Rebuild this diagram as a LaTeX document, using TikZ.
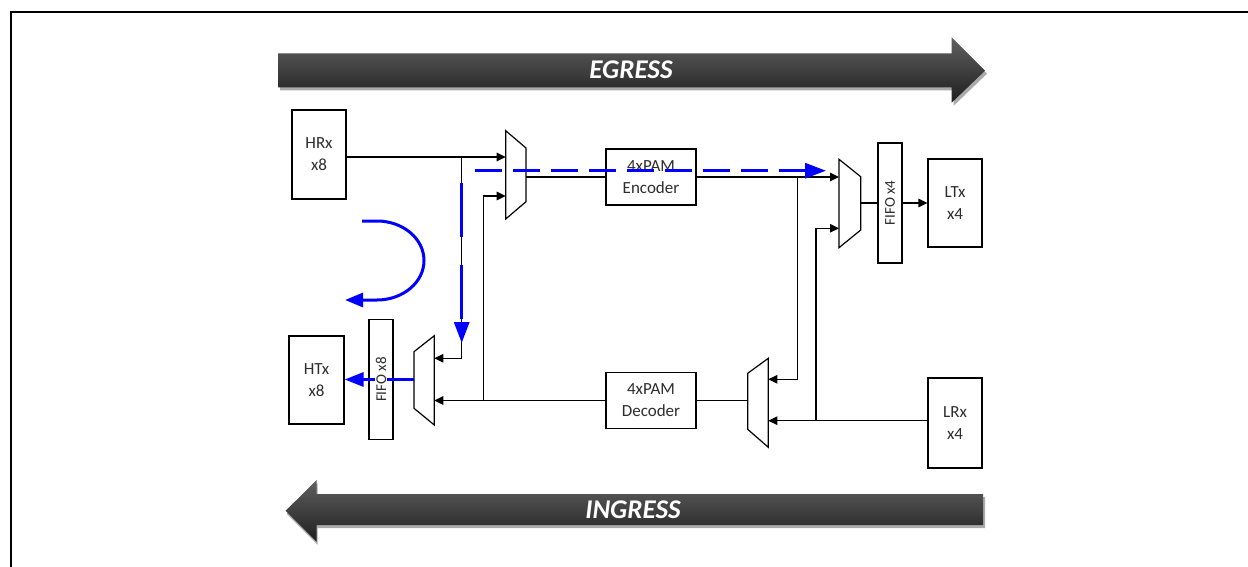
\documentclass[tikz,border=0pt]{standalone}
\usepackage{fontspec}
\setmainfont{Carlito}
\usetikzlibrary{arrows.meta,calc}
\definecolor{arrtop}{RGB}{96,96,96}
\definecolor{arrbot}{RGB}{30,30,30}
\definecolor{shadowgray}{RGB}{170,170,170}
\definecolor{lbl}{RGB}{45,45,45}
\begin{document}
\begin{tikzpicture}[x=1pt,y=-1pt,
  box/.style={draw, line width=1.2pt, inner sep=0pt, align=center, font=\fontsize{17}{22}\selectfont, text=lbl},
  fifo/.style={draw, line width=1.2pt, inner sep=0pt, minimum width=24pt, minimum height=120pt},
  fifolbl/.style={rotate=90, font=\fontsize{15}{18}\selectfont, text=lbl, fill=white, inner sep=0.6pt},
  wire/.style={line width=1.2pt},
  arr/.style={wire, -{Triangle[length=9pt,width=8.5pt]}},
  mux/.style={draw, line width=1.2pt, line join=miter},
  blueline/.style={draw=blue, line width=3pt},
  bluedash/.style={blueline, dash pattern=on 27pt off 11pt},
  bluedashv/.style={blueline, dash pattern=on 54pt off 28pt},
  bigtip/.style={-{Triangle[length=21pt,width=15pt]}},
  shaftext/.style={text=white, font=\fontsize{27}{30}\selectfont\bfseries\itshape},
]
\useasboundingbox (0,0) rectangle (1248,567);
\draw[line width=2.4pt] (11,567) -- (11,12) -- (1248,12);

% ---- big direction arrows
\fill[shadowgray] ($(278,53.3)+(2,3)$) -- ++(673.7,0) -- ++(0,-16) -- ($(985,70.7)+(2,3)$) -- ($(951.7,102.7)+(2,3)$) -- ($(951.7,87.3)+(2,3)$) -- ($(278,87.3)+(2,3)$) -- cycle;
\shade[top color=arrtop, bottom color=arrbot] (278,53.3) -- (951.7,53.3) -- (951.7,37.3) -- (985,70.7) -- (951.7,102.7) -- (951.7,87.3) -- (278,87.3) -- cycle;
\node[shaftext] (egress) at (631,69.5) {EGRESS};

\fill[shadowgray] ($(984,494)+(1,3)$) -- ($(316.7,494)+(1,3)$) -- ($(316.7,480)+(1,3)$) -- ($(285.7,510.7)+(1,3)$) -- ($(316.7,541.7)+(1,3)$) -- ($(316.7,525)+(1,3)$) -- ($(984,525)+(1,3)$) -- cycle;
\shade[top color=arrtop, bottom color=arrbot] (983,494) -- (316.7,494) -- (316.7,480) -- (285.7,510.7) -- (316.7,541.7) -- (316.7,525) -- (983,525) -- cycle;
\node[shaftext] (ingress) at (633,509.5) {INGRESS};

% ---- blocks
\node[box, minimum width=54pt, minimum height=89pt] (HRx) at (319,154.5) {HRx\\x8};
\node[box, minimum width=55pt, minimum height=88pt] (HTx) at (316.5,380) {HTx\\x8};
\node[fifo] (fifo8) at (381,379.5) {};
\node[box, minimum width=90pt, minimum height=56pt] (enc) at (651,177) {4xPAM\\Encoder};
\node[box, minimum width=90pt, minimum height=56pt] (dec) at (651,400.5) {4xPAM\\Decoder};
\node[fifo] (fifo4) at (890,203) {};
\node[fifolbl, fill=none] (fifo4t) at (fifo4.center) {FIFO x4};
\node[box, minimum width=54pt, minimum height=88pt] (LTx) at (955,203) {LTx\\x4};
\node[box, minimum width=54pt, minimum height=90pt] (LRx) at (955,423) {LRx\\x4};

% ---- multiplexers
\draw[mux] (505.7,130.7) -- (526,148) -- (526,201.7) -- (505.7,219) -- cycle;
\draw[mux] (414,351.7) -- (434.3,335.7) -- (434.3,425) -- (414,408.3) -- cycle;
\draw[mux] (839,159.3) -- (860.7,176.7) -- (860.7,230) -- (839,247.7) -- cycle;
\draw[mux] (747.7,373.3) -- (768.3,358.3) -- (768.3,447.3) -- (747.7,429.3) -- cycle;

\coordinate (m1a) at (505.7,157);
\coordinate (m1b) at (505.7,196);
\coordinate (m1o) at (526,177);
\coordinate (m2a) at (434.3,358.3);
\coordinate (m2b) at (434.3,400.5);
\coordinate (m2o) at (414,379.5);
\coordinate (m3a) at (839,177);
\coordinate (m3b) at (839,228.3);
\coordinate (m3o) at (860.7,203);
\coordinate (m4a) at (768.3,379.3);
\coordinate (m4b) at (768.3,420.7);
\coordinate (m4o) at (747.7,400.5);
\coordinate (j1) at (461.7,157);
\coordinate (j2) at (797.3,177);
\coordinate (j3) at (816,420.7);
\coordinate (j4) at (483.3,400.5);

% ---- wires
\draw[arr] (HRx.east |- j1) -- (m1a);
\draw[arr] (j1) |- (m2a);
\draw[wire] (m1o) -- (m1o -| enc.west);
\draw[arr] (enc.east |- m3a) -- (m3a);
\draw[arr] (j2) |- (m4a);
\draw[wire] (m3o) -- (fifo4.west |- m3o);
\draw[arr] (fifo4.east |- m3o) -- (LTx.west |- m3o);
\draw[arr] (LRx.west |- m4b) -- (m4b);
\draw[arr] (j3) |- (m3b);
\draw[wire] (m4o) -- (dec.east |- m4o);
\draw[arr] (dec.west |- m2b) -- (m2b);
\draw[arr] (j4) |- (m1b);

% ---- blue overlay paths
\coordinate (bh0) at (475,170.7);
\coordinate (bh1) at (826,170.7);
\coordinate (bv0) at (461.7,183);
\coordinate (bv1) at (461.7,343);
\draw[bluedash, bigtip] (bh0) -- (bh1);
\draw[bluedashv, bigtip] (bv0) -- (bv1);
\coordinate (c0) at (362,221);
\coordinate (c1) at (345,300);
\draw[blueline, -{Triangle[length=18pt,width=14pt]}] (c0) -- (377,221) arc[start angle=-90, end angle=90, x radius=47, y radius=39.5] -- (c1);
\draw[blueline, -{Triangle[length=19pt,width=14pt]}] (m2o) -- (HTx.east |- m2o);
\node[fifolbl] (fifo8t) at (fifo8.center) {FIFO x8};
\end{tikzpicture}
\end{document}
